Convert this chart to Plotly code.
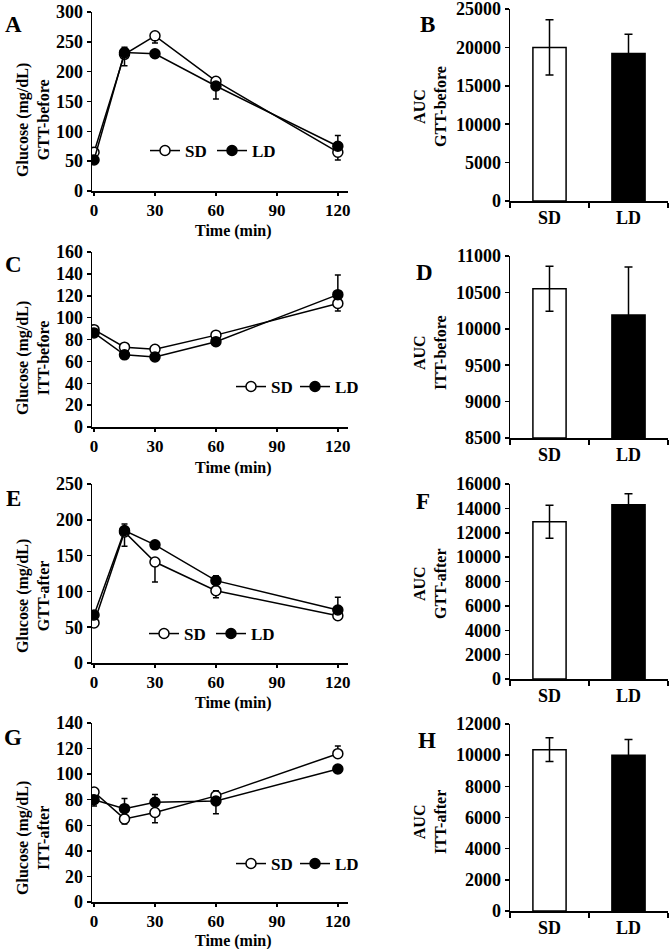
import plotly.graph_objects as go

OFF = 0
W, H = 670, 949
FONT = "Liberation Serif, Times New Roman, serif"

# ---------------- data ----------------
time_min = [0, 15, 30, 60, 120]
time_ticks = [0, 30, 60, 90, 120]
groups = ["SD", "LD"]

# A: GTT-before
gtt_before_sd = [65, 229, 260, 184, 65]
gtt_before_sd_up = [0, 0, 0, 0, 0]
gtt_before_sd_dn = [3, 0, 12, 3, 13]
gtt_before_ld = [52, 232, 230, 176, 75]
gtt_before_ld_up = [0, 9, 0, 0, 18]
gtt_before_ld_dn = [0, 22, 3, 22, 0]

# C: ITT-before
itt_before_sd = [89, 73, 71, 84, 113]
itt_before_sd_up = [3, 3, 3, 3, 0]
itt_before_sd_dn = [3, 3, 3, 3, 7]
itt_before_ld = [86, 66, 64, 78, 121]
itt_before_ld_up = [3, 2, 2, 2, 18]
itt_before_ld_dn = [3, 2, 2, 2, 0]

# E: GTT-after
gtt_after_sd = [56, 183, 141, 101, 66]
gtt_after_sd_up = [0, 0, 0, 0, 0]
gtt_after_sd_dn = [3, 20, 28, 10, 4]
gtt_after_ld = [67, 185, 165, 115, 74]
gtt_after_ld_up = [3, 9, 3, 7, 18]
gtt_after_ld_dn = [0, 0, 0, 0, 0]

# G: ITT-after
itt_after_sd = [86, 65, 70, 83, 116]
itt_after_sd_up = [3, 0, 0, 4, 6]
itt_after_sd_dn = [3, 4, 8, 0, 0]
itt_after_ld = [80, 73, 78, 79, 104]
itt_after_ld_up = [0, 8, 6, 0, 0]
itt_after_ld_dn = [5, 0, 0, 10, 3]

# AUC bars (SD, LD) and error
auc_gtt_before = [20000, 19200]
auc_gtt_before_err = [3600, 2500]
auc_itt_before = [10550, 10190]
auc_itt_before_err = [310, 660]
auc_gtt_after = [12900, 14300]
auc_gtt_after_err = [1350, 900]
auc_itt_after = [10350, 10000]
auc_itt_after_err = [760, 1000]

# ---------------- layout helpers (page pixel -> paper) ----------------
def px(x):
    return (x - OFF) / W

def py(y):
    return 1 - (y - OFF) / H

def xd(a, b):
    return [px(a), px(b)]

def yd(top, bottom):
    return [py(bottom), py(top)]

fig = go.Figure()

line_panels = [
    (1, gtt_before_sd, gtt_before_sd_up, gtt_before_sd_dn, gtt_before_ld, gtt_before_ld_up, gtt_before_ld_dn,
     12, 191, 300, 50, "legend", "GTT-before", (163, 151), 120, 231, 22),
    (3, itt_before_sd, itt_before_sd_up, itt_before_sd_dn, itt_before_ld, itt_before_ld_up, itt_before_ld_dn,
     252, 427, 160, 20, "legend2", "ITT-before", (249, 387), 358, 468, 19),
    (5, gtt_after_sd, gtt_after_sd_up, gtt_after_sd_dn, gtt_after_ld, gtt_after_ld_up, gtt_after_ld_dn,
     484, 663, 250, 50, "legend3", "GTT-after", (162, 634), 596, 703, 22),
    (7, itt_after_sd, itt_after_sd_up, itt_after_sd_dn, itt_after_ld, itt_after_ld_up, itt_after_ld_dn,
     723, 902, 140, 20, "legend4", "ITT-after", (249, 864), 838, 941, 19),
]

bar_panels = [
    (2, auc_gtt_before, auc_gtt_before_err, 9, 201, [0, 25000], 5000, "GTT-before", 107),
    (4, auc_itt_before, auc_itt_before_err, 256, 438, [8500, 11000], 500, "ITT-before", 353),
    (6, auc_gtt_after, auc_gtt_after_err, 484, 679, [0, 16000], 2000, "GTT-after", 584),
    (8, auc_itt_after, auc_itt_after_err, 724, 911, [0, 12000], 2000, "ITT-after", 822),
]

def tf(size=18):
    return dict(family=FONT, size=size, color="black", weight="bold")

common_axis = dict(
    automargin=False, ticklabeloverflow="allow",
    ticks="outside", tickwidth=1.5, tickcolor="black",
    showline=True, linecolor="black", linewidth=1.5, showgrid=False, zeroline=False,
)

annotations = []
layout = {}

for (i, sd, sdu, sdd, ld, ldu, ldd, ytop, ybot, ymax, dt, leg, lab, lpos, labc, timey, ew) in line_panels:
    xa = "x" if i == 1 else f"x{i}"
    ya = "y" if i == 1 else f"y{i}"
    for name, vals, up, dn, fill in [("SD", sd, sdu, sdd, "white"), ("LD", ld, ldu, ldd, "black")]:
        fig.add_trace(go.Scatter(
            x=time_min, y=vals, name=name, mode="lines+markers",
            xaxis=xa, yaxis=ya, legend=leg,
            line=dict(color="black", width=1.5),
            marker=dict(symbol="circle", size=10, color=fill, line=dict(color="black", width=1.5)),
            error_y=dict(type="data", symmetric=False, array=up, arrayminus=dn,
                         color="black", thickness=1.5, width=3),
        ))
    layout[f"xaxis{'' if i == 1 else i}"] = dict(
        domain=xd(92, 348), range=[-1, 125], anchor=ya,
        tickvals=time_ticks, ticklen=3, tickfont=tf(17), **common_axis,
    )
    layout[f"yaxis{'' if i == 1 else i}"] = dict(
        domain=yd(ytop, ybot), range=[0, ymax], anchor=xa, dtick=dt, tickformat="d",
        ticklen=4, tickfont=tf(), **common_axis,
    )
    layout[leg] = dict(
        x=px(lpos[0] - 18), y=py(lpos[1]), xanchor="left", yanchor="middle",
        orientation="h", entrywidth=ew, entrywidthmode="pixels",
        font=dict(family=FONT, size=17, color="black", weight="bold"),
        bgcolor="rgba(0,0,0,0)", itemwidth=30,
    )
    annotations.append(dict(
        x=px(33), y=py(labc), xref="paper", yref="paper", textangle=-90,
        xanchor="center", yanchor="middle",
        text=f"Glucose (mg/dL)<br>{lab}", showarrow=False,
        font=dict(family=FONT, size=16, color="black", weight="bold"),
    ))
    annotations.append(dict(
        x=px(233), y=py(timey), xref="paper", yref="paper",
        xanchor="center", yanchor="middle",
        text="Time (min)", showarrow=False,
        font=dict(family=FONT, size=16, color="black", weight="bold"),
    ))

for (i, vals, err, ytop, ybot, rng, dt, lab, labc) in bar_panels:
    xa = f"x{i}"
    ya = f"y{i}"
    fig.add_trace(go.Bar(
        x=groups, y=[v - rng[0] for v in vals], base=rng[0], xaxis=xa, yaxis=ya,
        showlegend=False, width=0.42,
        marker=dict(color=["white", "black"], line=dict(color="black", width=1.5)),
        error_y=dict(type="data", array=err, color="black", thickness=1.5, width=4),
    ))
    layout[f"xaxis{i}"] = dict(
        domain=xd(510, 668), anchor=ya, type="category", range=[-0.5, 1.5],
        tickson="boundaries", ticklen=5, tickfont=tf(), **common_axis,
    )
    layout[f"yaxis{i}"] = dict(
        domain=yd(ytop, ybot), range=rng, anchor=xa, dtick=dt, tickformat="d",
        ticklen=4, tickfont=tf(), **common_axis,
    )
    annotations.append(dict(
        x=px(430), y=py(labc), xref="paper", yref="paper", textangle=-90,
        xanchor="center", yanchor="middle",
        text=f"AUC<br>{lab}", showarrow=False,
        font=dict(family=FONT, size=16, color="black", weight="bold"),
    ))

for letter, cx, cy in [("A", 13, 24), ("B", 427, 24), ("C", 13, 265), ("D", 424, 272),
                       ("E", 13, 498), ("F", 423, 501), ("G", 13, 737), ("H", 427, 740)]:
    annotations.append(dict(
        x=px(cx), y=py(cy), xref="paper", yref="paper", text=letter, showarrow=False,
        xanchor="center", yanchor="middle",
        font=dict(family=FONT, size=23, color="black", weight="bold"),
    ))

fig.update_layout(
    width=W, height=H, margin=dict(l=0, r=0, t=0, b=0, pad=0, autoexpand=False),
    paper_bgcolor="white", plot_bgcolor="white",
    font=dict(family=FONT, color="black", weight="bold"),
    annotations=annotations, bargap=0.5, hovermode=False,
    **layout,
)

fig.write_html(
    "out.html",
    config={"displayModeBar": False, "staticPlot": True},
    post_script="document.body.style.margin='0px';",
)
